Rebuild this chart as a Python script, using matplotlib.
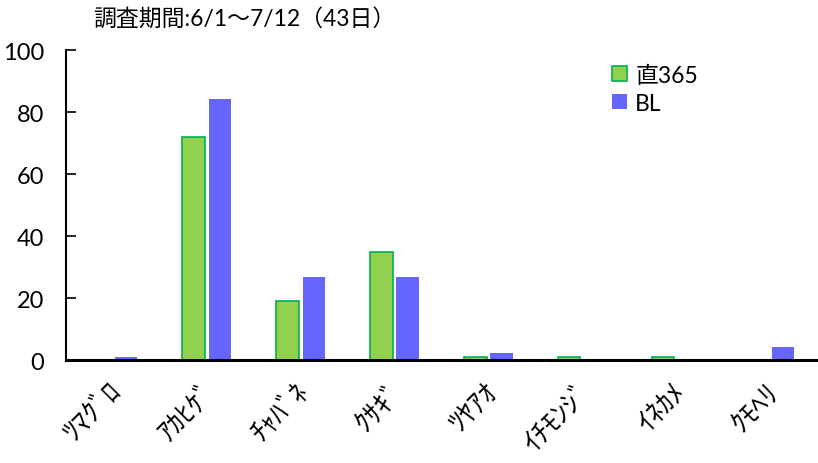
import matplotlib
matplotlib.use("Agg")
import matplotlib.pyplot as plt
import matplotlib.transforms as mtransforms
import numpy as np

plt.rcParams['font.family'] = ['Lato', 'Noto Sans CJK JP', 'DejaVu Sans']

species = ["ﾂﾏｸﾞﾛ", "ｱｶﾋｹﾞ", "ﾁｬﾊﾞﾈ", "ｸｻｷﾞ", "ﾂﾔｱｵ", "ｲﾁﾓﾝｼﾞ", "ｲﾈｶﾒ", "ｸﾓﾍﾘ"]
choku365 = [0, 72, 19, 35, 1, 1, 1, 0]
bl = [1.2, 84.3, 27, 27, 2.3, 0, 0, 4.4]
series_names = ["直365", "BL"]
title = "調査期間:6/1～7/12（43日）"

fig = plt.figure(figsize=(8.18, 4.64), dpi=100)
ax = fig.add_axes([0.0807, 0.221, 0.918, 0.669])

x = np.arange(len(species))
width = 0.24
ax.bar(x - 0.14, choku365, width=width, color="#92D050", edgecolor="#00B050",
       linewidth=1.2, label=series_names[0])
ax.bar(x + 0.14, bl, width=width, color="#6666FF", label=series_names[1])

ax.set_xlim(-0.5, len(species) - 0.5)
ax.set_ylim(0, 100)
ax.set_yticks(np.arange(0, 101, 20))
ax.tick_params(axis="y", direction="in", length=7, width=1.2, labelsize=17, pad=16)
ax.tick_params(axis="x", length=0, labelsize=20, pad=12)
ax.set_xticks(x)
ax.set_xticklabels(species, rotation=45, ha="right", rotation_mode="anchor",
                   family=["Noto Sans CJK JP"])
shift = mtransforms.ScaledTranslation(-6 / 100, 0, fig.dpi_scale_trans)
for lbl in ax.get_xticklabels():
    lbl.set_transform(lbl.get_transform() + shift)

for s in ["top", "right"]:
    ax.spines[s].set_visible(False)
ax.spines["left"].set_linewidth(1.5)
ax.spines["bottom"].set_linewidth(2.2)

ax.legend(loc="upper left", bbox_to_anchor=(0.7, 1.02), frameon=False,
          fontsize=16.5, handlelength=0.65, handleheight=0.65, handletextpad=0.35,
          labelspacing=0.3)

fig.text(93 / 818, 1 - 19 / 464, title, fontsize=16.5, va="center", ha="left")

fig.savefig("out.png", dpi=100)
